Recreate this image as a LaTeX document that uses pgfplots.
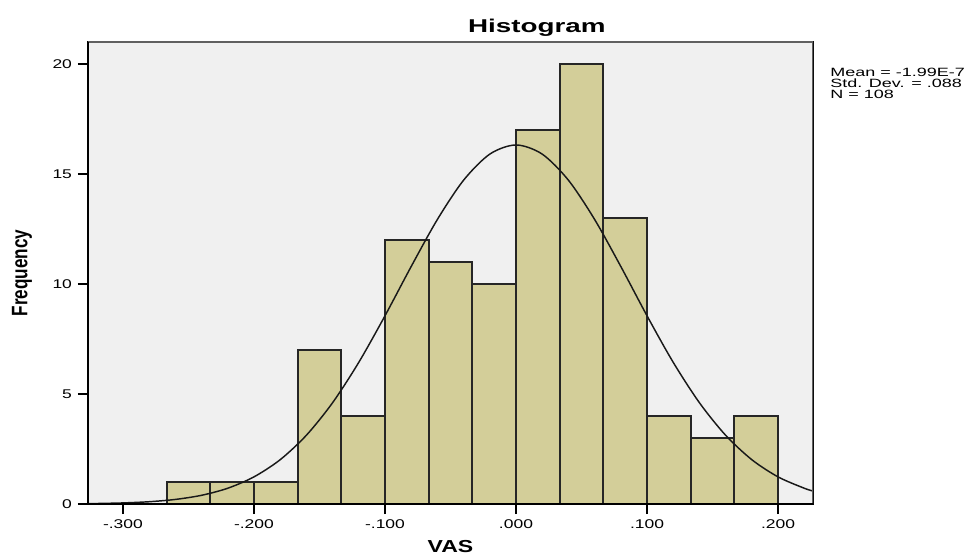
\documentclass[border=0pt]{standalone}
\usepackage{pgfplots}
\pgfplotsset{compat=1.18}
\usepackage{fontspec}
\setmainfont{Liberation Sans}
\definecolor{barfill}{HTML}{D3CE99}
\definecolor{bgc}{HTML}{F0F0F0}
\definecolor{frm}{HTML}{606060}
\newcommand\sx[1]{\scalebox{1.38}[1]{#1}}
\begin{document}
\begin{tikzpicture}
\begin{axis}[
  name=ax,
  scale only axis,
  width=543.75pt, height=346.5pt,
  xmin=-0.3267, xmax=0.2267, ymin=0, ymax=21,
  axis background/.style={fill=bgc},
  axis line style={black, line width=1pt},
  tick pos=left, tick align=outside,
  major tick length=7.5pt,
  tick style={black, line width=1pt},
  xtick={-0.3,-0.2,-0.1,0,0.1,0.2},
  xticklabels={\sx{-.300},\sx{-.200},\sx{-.100},\sx{.000},\sx{.100},\sx{.200}},
  ytick={0,5,10,15,20},
  yticklabels={\sx{0},\sx{5},\sx{10},\sx{15},\sx{20}},
  ticklabel style={font=\fontsize{9.5}{11}\selectfont},
  xticklabel style={yshift=-1pt},
  yticklabel style={xshift=-1pt},
  every axis title shift=0pt,
  title={\scalebox{1.5}[1]{Histogram}},
  title style={at={(axis description cs:0.619,1.0195)}, anchor=base, font=\fontsize{13.9}{16}\selectfont\bfseries},
  xlabel={\scalebox{1.33}[1]{VAS}},
  xlabel style={at={(axis description cs:0.5,-0.106)}, anchor=base, font=\fontsize{13}{15}\selectfont\bfseries},
  ylabel={\scalebox{1.07}[1.4]{Frequency}},
  ylabel style={at={(axis description cs:-0.091,0.5)}, anchor=center, font=\fontsize{12}{14}\selectfont\bfseries},
]
\addplot[ybar interval, fill=barfill, draw=black!85, line width=1.3pt] coordinates {
(-0.266667,1) (-0.233333,1) (-0.2,1) (-0.166667,7) (-0.133333,4)
(-0.1,12) (-0.066667,11) (-0.033333,10) (0,17) (0.033333,20)
(0.066667,13) (0.1,4) (0.133333,3) (0.166667,4) (0.2,0)
};
\addplot[black!90, line width=1.1pt, smooth, no marks] coordinates {
(-0.3267,0.0166) (-0.32,0.0219) (-0.30,0.0489) (-0.28,0.1034) (-0.26,0.2077)
(-0.24,0.396) (-0.22,0.717) (-0.20,1.233) (-0.18,2.014) (-0.16,3.125)
(-0.14,4.604) (-0.12,6.440) (-0.10,8.556) (-0.08,10.796) (-0.06,12.935)
(-0.04,14.719) (-0.02,15.904) (0,16.32) (0.02,15.904) (0.04,14.719)
(0.06,12.935) (0.08,10.796) (0.10,8.556) (0.12,6.440) (0.14,4.604)
(0.16,3.125) (0.18,2.014) (0.20,1.233) (0.22,0.717) (0.2267,0.591)
};
\draw[frm, line width=1.4pt] (rel axis cs:0,1) -- (rel axis cs:1,1) -- (rel axis cs:1,0);
\draw[black, line width=1pt] (rel axis cs:0,1) -- (rel axis cs:0,0) -- (rel axis cs:1,0);
\end{axis}
\begin{scope}[every node/.style={anchor=base west, font=\fontsize{9}{10}\selectfont, inner sep=0pt}]
\node at ([shift={(12.75pt,-25.9pt)}]ax.north east) {\scalebox{1.5}[1]{Mean = -1.99E-7}};
\node at ([shift={(12.75pt,-34.1pt)}]ax.north east) {\scalebox{1.5}[1]{Std. Dev. = .088}};
\node at ([shift={(12.75pt,-42.4pt)}]ax.north east) {\scalebox{1.5}[1]{N = 108}};
\end{scope}
\pgfresetboundingbox
\path[use as bounding box] ([shift={(-66pt,-39.75pt)}]ax.south west) rectangle ([shift={(657.75pt,378pt)}]ax.south west);
\end{tikzpicture}
\end{document}
